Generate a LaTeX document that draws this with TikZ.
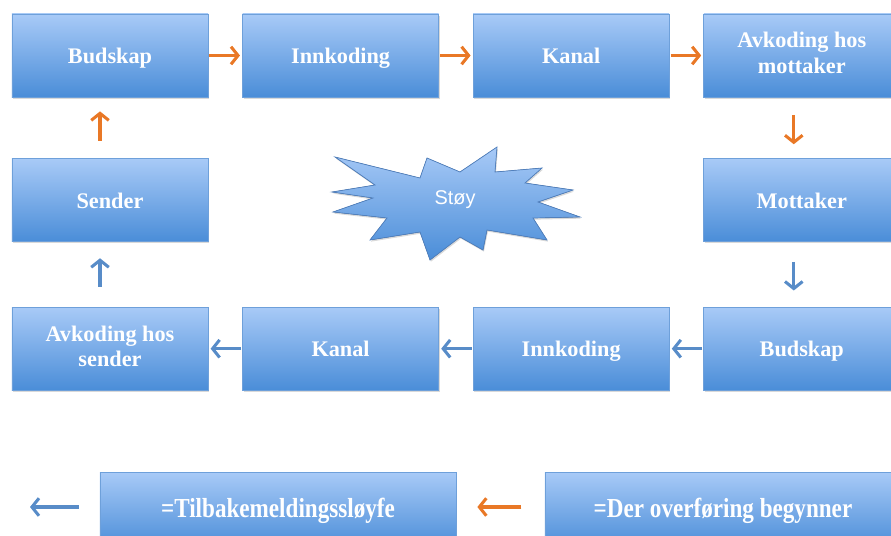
\documentclass[tikz,border=0pt]{standalone}
\usepackage{fontspec}
\setmainfont{Liberation Serif}
\newfontfamily\stoyfont{Liberation Sans}
\newfontfamily\keyfont{Liberation Serif}[FakeStretch=0.84]
\usepackage{tikz}
\usetikzlibrary{positioning,arrows.meta,shadows}
\definecolor{boxTop}{RGB}{168,202,247}
\definecolor{boxBottom}{RGB}{74,141,216}
\definecolor{boxEdge}{RGB}{110,160,218}
\definecolor{starEdge}{RGB}{80,128,190}
\definecolor{sendOrange}{RGB}{233,120,38}
\definecolor{backBlue}{RGB}{88,140,200}
\newcommand{\twolines}[2]{\begin{tabular}{@{}c@{}}#1\\#2\end{tabular}}

\begin{document}
\begin{tikzpicture}[x=0.03cm,y=-0.03cm,
  stagebox/.style={rectangle, draw=boxEdge, line width=0.5pt,
    top color=boxTop, bottom color=boxBottom,
    minimum width=5.88cm, minimum height=2.49cm, align=center,
    text=white, font=\fontsize{19}{21.5}\selectfont\bfseries,
    execute at begin node=\rule{0pt}{20pt},
    execute at end node=\rule[-6.4pt]{0pt}{6.4pt},
    drop shadow={shadow xshift=0.8pt, shadow yshift=-1.4pt, opacity=0.3}},
  keybox/.style={stagebox, minimum width=10.68cm, minimum height=2.28cm,
    execute at begin node=\strut, execute at end node=\strut,
    font=\keyfont\fontsize{23.5}{26}\selectfont\bfseries},
  fwd/.style={sendOrange, line width=2.6pt, -{Straight Barb[length=6pt,width=15pt]}},
  back/.style={backBlue, line width=2.6pt, -{Straight Barb[length=6pt,width=15pt]}},
  node distance=1.83cm and 1.02cm]
\useasboundingbox (0,0) rectangle (891,536);
\clip (0,0) rectangle (891,536);

% sending loop
\node[stagebox] (budskapA) at (110,55.5) {Budskap};
\node[stagebox, right=of budskapA] (innkodingA) {Innkoding};
\node[stagebox, right=of innkodingA] (kanalA) {Kanal};
\node[stagebox, right=of kanalA] (avkodingM) {\twolines{Avkoding hos}{mottaker}};
\node[stagebox, below=of avkodingM] (mottaker) {Mottaker};
\node[stagebox, below=1.95cm of mottaker] (budskapB) {Budskap};
\node[stagebox, left=of budskapB] (innkodingB) {Innkoding};
\node[stagebox, left=of innkodingB] (kanalB) {Kanal};
\node[stagebox, left=of kanalB] (avkodingS) {\twolines{Avkoding hos}{sender}};
\node[stagebox, above=1.95cm of avkodingS] (sender) {Sender};

% noise
\filldraw[draw=starEdge, line width=0.6pt, top color=boxTop, bottom color=boxBottom,
  drop shadow={shadow xshift=0.8pt, shadow yshift=-1.4pt, opacity=0.3}]
  (335,157) -- (420,178) -- (427,158) -- (460,172) -- (497,147) -- (495,172)
  -- (542,168) -- (525,183) -- (573,190) -- (538,202) -- (580,217) -- (533,218)
  -- (547,240) -- (487,230) -- (483,250) -- (460,237) -- (430,260) -- (420,232)
  -- (370,240) -- (387,218) -- (333,212) -- (373,198) -- (332,192) -- (375,185)
  -- cycle;
\node[text=white, font=\stoyfont\fontsize{17}{20}\selectfont] (stoy) at (455,200) {Støy};

% arrows
\draw[fwd, shorten <=1pt, shorten >=2pt] (budskapA) -- (innkodingA);
\draw[fwd, shorten <=1pt, shorten >=2pt] (innkodingA) -- (kanalA);
\draw[fwd, shorten <=1pt, shorten >=2pt] (kanalA) -- (avkodingM);
\draw[fwd, shorten <=15pt, shorten >=12pt] ([xshift=-0.24cm]avkodingM.south) -- ([xshift=-0.24cm]mottaker.north);
\draw[back, shorten <=17pt, shorten >=14pt] ([xshift=-0.24cm]mottaker.south) -- ([xshift=-0.24cm]budskapB.north);
\draw[back, shorten <=1pt, shorten >=2pt] (budskapB) -- (innkodingB);
\draw[back, shorten <=1pt, shorten >=2pt] (innkodingB) -- (kanalB);
\draw[back, shorten <=1pt, shorten >=2pt] (kanalB) -- (avkodingS);
\draw[back, shorten <=17pt, shorten >=14pt] ([xshift=-0.3cm]avkodingS.north) -- ([xshift=-0.3cm]sender.south);
\draw[fwd, shorten <=15pt, shorten >=12pt] ([xshift=-0.3cm]sender.north) -- ([xshift=-0.3cm]budskapA.south);

% legend
\node[keybox] (tilbake) at (278,510) {=Tilbakemeldingssløyfe};
\node[keybox] (overforing) at (723,510) {=Der overføring begynner};
\coordinate (legendEnd) at (30,507);
\draw[fwd, shorten <=20pt, shorten >=18pt] (overforing.west |- 0,507) -- (tilbake.east |- 0,507);
\draw[back, shorten <=18pt] (tilbake.west |- 0,507) -- (legendEnd);
\end{tikzpicture}
\end{document}
